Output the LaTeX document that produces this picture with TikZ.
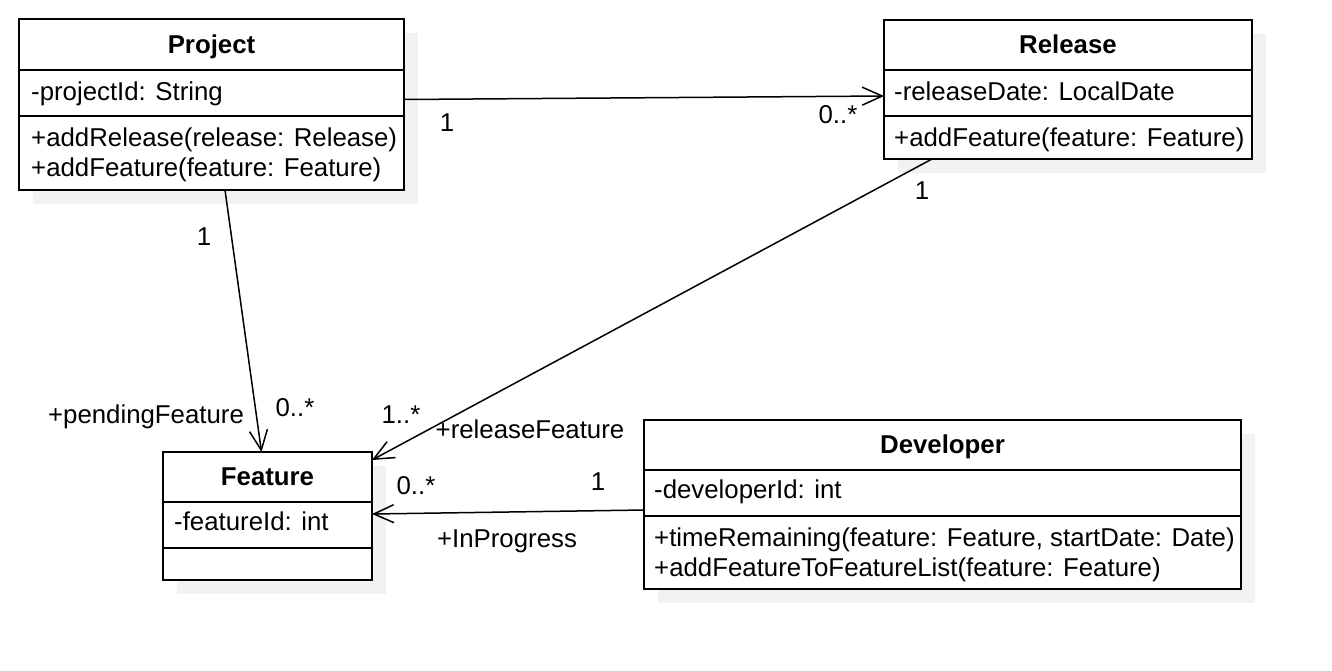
\documentclass[tikz,border=0pt]{standalone}
\usepackage{fontspec}
\setmainfont{Liberation Sans}
\usetikzlibrary{arrows.meta}
\begin{document}
\begin{tikzpicture}[x=1pt,y=-1pt,
  box/.style={draw=black,line width=2pt,fill=white,inner sep=0pt,outer sep=0pt,anchor=north west},
  shadowbox/.style={fill=black!5,draw=none,inner sep=0pt,outer sep=0pt,anchor=north west},
  sep/.style={line width=2pt},
  txt/.style={inner sep=0pt,anchor=base west,font=\fontsize{25.8}{30}\selectfont},
  ttl/.style={inner sep=0pt,anchor=base,font=\fontsize{25.8}{30}\selectfont\bfseries},
  lbl/.style={inner sep=0pt,anchor=base,font=\fontsize{25.8}{30}\selectfont},
  assoc/.style={line width=1.5pt,-{Straight Barb[length=20pt,width=18pt,line width=1.5pt]}}]
\useasboundingbox (0,0) rectangle (1332,670);
% shadows
\node[shadowbox,minimum width=385pt,minimum height=171pt] (projs) at (33,33) {};
\node[shadowbox,minimum width=368pt,minimum height=139pt] (rels) at (898,34) {};
\node[shadowbox,minimum width=209pt,minimum height=128pt] (feats) at (177,466) {};
\node[shadowbox,minimum width=597pt,minimum height=169pt] (devs) at (658,434) {};
% Project
\node[box,minimum width=385pt,minimum height=171pt] (proj) at (19,19) {};
\draw[sep] (19,70) -- (404,70) (19,116) -- (404,116);
\node[ttl] (projt) at (211.5,53) {Project};
\node[txt] (proja) at (31,100) {-projectId: String};
\node[txt] (projm1) at (31,146) {+addRelease(release: Release)};
\node[txt] (projm2) at (31,176) {+addFeature(feature: Feature)};
% Release
\node[box,minimum width=368pt,minimum height=139pt] (rel) at (884,20) {};
\draw[sep] (884,70) -- (1252,70) (884,116) -- (1252,116);
\node[ttl] (relt) at (1068,53) {Release};
\node[txt] (rela) at (894,100) {-releaseDate: LocalDate};
\node[txt] (relm1) at (894,146) {+addFeature(feature: Feature)};
% Feature
\node[box,minimum width=209pt,minimum height=128pt] (feat) at (163,452) {};
\draw[sep] (163,502) -- (372,502) (163,548) -- (372,548);
\node[ttl] (featt) at (267.5,485) {Feature};
\node[txt] (feata) at (174,530) {-featureId: int};
% Developer
\node[box,minimum width=597pt,minimum height=169pt] (dev) at (644,420) {};
\draw[sep] (644,470) -- (1241,470) (644,516) -- (1241,516);
\node[ttl] (devt) at (942.5,453) {Developer};
\node[txt] (deva) at (654,498) {-developerId: int};
\node[txt] (devm1) at (654,546) {+timeRemaining(feature: Feature, startDate: Date)};
\node[txt] (devm2) at (654,576) {+addFeatureToFeatureList(feature: Feature)};
% connectors
\draw[assoc] ([yshift=5pt]proj.east) -- ([yshift=-6.5pt]rel.west);
\draw[assoc] ([xshift=13.5pt]proj.south) -- ([xshift=-6pt]feat.north);
\draw[assoc] ([xshift=-136pt]rel.south) -- ([yshift=-8pt]feat.north east);
\draw[assoc] ([yshift=-5.5pt]dev.west) -- ([yshift=2pt]feat.east);
% labels
\node[lbl] (l1) at (447,131) {1};
\node[lbl] (l2) at (838,123) {0..*};
\node[lbl] (l3) at (204,245) {1};
\node[lbl] (l4) at (295,416) {0..*};
\node[lbl] (l5) at (146,423) {+pendingFeature};
\node[lbl] (l6) at (922,199) {1};
\node[lbl] (l7) at (401,423) {1..*};
\node[lbl] (l8) at (530,438) {+releaseFeature};
\node[lbl] (l9) at (598,490) {1};
\node[lbl] (l10) at (416,494) {0..*};
\node[lbl] (l11) at (507,547) {+InProgress};
\end{tikzpicture}
\end{document}
